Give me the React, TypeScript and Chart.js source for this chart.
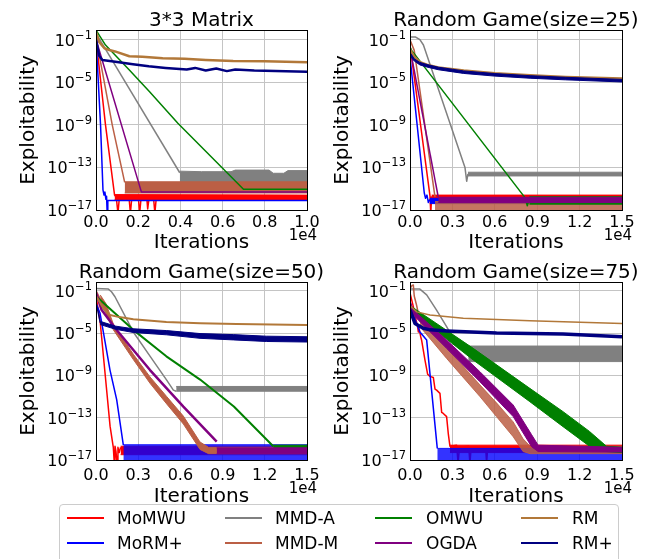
import React, { useEffect, useRef } from "react";
import { Chart, registerables } from "chart.js";

Chart.register(...registerables);

const W = 667;
const H = 559;
const FONT = '"DejaVu Sans", "Liberation Sans", sans-serif';
const GRID = "#c4c4c4";

const SERIES_NAMES = ["MoMWU", "MoRM+", "MMD-A", "MMD-M", "OMWU", "OGDA", "RM", "RM+"];
const SERIES_COLORS = ["#ff0000", "#0000ff", "#808080", "#bb5f45", "#008000", "#800080", "#b27839", "#000080"];

const Y_TICK_EXPONENTS = [-1, -5, -9, -13, -17];
const X_TICKS_10K = [0, 2000, 4000, 6000, 8000, 10000];
const X_TICKS_15K = [0, 3000, 6000, 9000, 12000, 15000];

type Pt = [number, number]; // [iteration, log10(exploitability)]
type Bd = [number, number, number]; // [iteration, upper log10, lower log10]

// ---------- 3*3 Matrix ----------
const M3_MoMWU: Pt[] = [[0, -0.9], [450, -9.0], [880, -15.6], [960, -15.8], [1040, -17.3], [1110, -15.8], [1560, -15.7], [1630, -17.3], [1700, -15.8], [2000, -15.7], [2070, -17.3], [2140, -15.8], [2400, -15.7], [2450, -16.9], [2520, -15.8], [2720, -15.7], [2790, -17.3], [2860, -15.8], [10000, -15.8]];
const M3_MoMWU_band: Bd[] = [[880, -15.55, -16.05], [10000, -15.6, -16.05]];
const M3_MoRMp: Pt[] = [[0, -0.8], [215, -9.0], [330, -15.1], [380, -15.6], [420, -15.3], [470, -16.0], [500, -15.7], [530, -17.3], [560, -16.1], [10000, -16.1]];
const M3_MMDA: Pt[] = [[0, -0.4], [3970, -13.5]];
const M3_MMDA_band: Bd[] = [[3970, -13.35, -14.7], [5000, -13.4, -14.7], [6400, -13.4, -14.7], [6600, -13.25, -14.7], [8200, -13.25, -14.7], [8400, -13.55, -14.7], [8900, -13.55, -14.7], [9100, -13.3, -14.7], [10000, -13.3, -14.7]];
const M3_MMDM: Pt[] = [[0, -0.8], [770, -9.0], [1360, -14.4]];
const M3_MMDM_band: Bd[] = [[1360, -14.35, -15.4], [10000, -14.35, -15.4]];
const M3_OMWU: Pt[] = [[0, -0.1], [450, -1.5], [1580, -3.85], [2540, -5.9], [3880, -8.85], [6990, -15.05], [10000, -15.05]];
const M3_OGDA: Pt[] = [[0, -0.8], [80, -1.5], [2150, -15.3], [10000, -15.3]];
const M3_RM: Pt[] = [[0, -0.3], [150, -1.2], [400, -1.8], [630, -1.97], [900, -2.1], [1580, -2.55], [2200, -2.6], [3160, -2.75], [4200, -2.8], [5210, -2.9], [6500, -3.0], [8000, -3.02], [10000, -3.12]];
const M3_RMp: Pt[] = [[0, -1.0], [150, -2.5], [300, -2.9], [1000, -3.1], [1750, -3.3], [2500, -3.5], [3300, -3.65], [4300, -3.8], [4700, -3.65], [5200, -3.9], [5700, -3.7], [6200, -3.95], [6600, -3.8], [7500, -3.9], [8500, -3.95], [10000, -4.0]];

// ---------- Random Game (size=25) ----------
const G25_MoMWU: Pt[] = [[0, -1.5], [1415, -15.7], [1470, -17.3], [1530, -15.7]];
const G25_MoMWU_band: Bd[] = [[1530, -15.6, -16.3], [15000, -15.6, -16.3]];
const G25_MoRMp: Pt[] = [[0, -2.6], [1010, -15.4], [1100, -15.9], [1200, -15.6], [1300, -16.3], [1400, -16.0]];
const G25_MoRMp_band: Bd[] = [[1400, -15.9, -16.4], [15000, -15.9, -16.4]];
const G25_MMDA: Pt[] = [[0, -0.75], [400, -0.75], [700, -1.0], [950, -1.5], [3890, -13.0], [4010, -14.3], [4100, -13.6]];
const G25_MMDA_band: Bd[] = [[4100, -13.45, -13.8], [15000, -13.45, -13.8]];
const G25_MMDM: Pt[] = [[0, -1.0], [300, -2.0], [1770, -15.8]];
const G25_MMDM_band: Bd[] = [[1770, -16.2, -17.3], [15000, -16.2, -17.3]];
const G25_OMWU: Pt[] = [[0, -1.7], [118, -2.0], [8135, -15.84], [8300, -16.6], [8450, -15.9]];
const G25_OMWU_band: Bd[] = [[8450, -15.75, -16.45], [15000, -15.75, -16.45]];
const G25_OGDA: Pt[] = [[0, -1.8], [2000, -15.8]];
const G25_OGDA_band: Bd[] = [[2000, -15.8, -16.3], [15000, -15.8, -16.3]];
const G25_RM: Pt[] = [[0, -1.9], [300, -2.6], [700, -3.1], [1200, -3.35], [2000, -3.6], [3800, -3.9], [6000, -4.15], [8500, -4.35], [11000, -4.5], [15000, -4.65]];
const G25_RMp: Pt[] = [[0, -2.3], [300, -2.9], [700, -3.25], [1200, -3.45], [2000, -3.7], [3800, -4.05], [6000, -4.3], [8500, -4.5], [11000, -4.65], [15000, -4.85]];
const G25_RMp_band: Bd[] = [[0, -2.2, -2.5], [300, -2.8, -3.0], [700, -3.13, -3.37], [1200, -3.33, -3.57], [2000, -3.58, -3.82], [3800, -3.93, -4.17], [6000, -4.18, -4.42], [8500, -4.38, -4.62], [11000, -4.53, -4.77], [15000, -4.73, -4.97]];

// ---------- Random Game (size=50) ----------
const G50_MoMWU: Pt[] = [[0, -1.5], [300, -4.0], [550, -7.5], [800, -11.0], [1000, -13.8], [1230, -15.8], [1300, -17.3], [1350, -15.7], [1420, -16.2], [1500, -17.3], [1560, -15.8], [1650, -16.3], [1750, -15.8]];
const G50_MoMWU_band: Bd[] = [[1750, -15.7, -16.5], [15000, -15.7, -16.5]];
const G50_MoRMp: Pt[] = [[0, -2.2], [284, -3.1], [995, -8.5], [1470, -11.3], [1944, -15.6]];
const G50_MoRMp_band: Bd[] = [[1944, -15.55, -17.3], [15000, -15.55, -17.3]];
const G50_MMDA: Pt[] = [[0, -0.8], [880, -0.85], [1100, -1.1], [1350, -1.57], [2650, -4.9], [3850, -7.2], [5000, -9.4], [5500, -10.4], [5700, -10.5]];
const G50_MMDA_band: Bd[] = [[5700, -10.05, -10.5], [15000, -10.05, -10.5]];
const G50_MMDM: Pt[] = [[0, -1.0], [300, -1.8], [700, -2.6], [1232, -4.4], [2650, -7.24], [3840, -9.44], [5024, -11.33], [6210, -13.2], [7394, -15.6]];
const G50_MMDM_band: Bd[] = [[300, -1.4, -2.3], [700, -2.2, -3.1], [1232, -4.15, -4.7], [2650, -7.0, -7.5], [3840, -9.15, -9.75], [5024, -11.0, -11.7], [6210, -12.85, -13.6], [7394, -15.3, -16.0], [8000, -15.8, -16.4], [15000, -15.8, -16.4]];
const G50_OMWU: Pt[] = [[0, -1.5], [240, -1.8], [2650, -4.7], [5000, -7.2], [7400, -9.4], [9800, -11.95], [12600, -15.7]];
const G50_OMWU_band: Bd[] = [[12600, -15.6, -16.0], [15000, -15.6, -16.0]];
const G50_OGDA: Pt[] = [[0, -1.2], [403, -2.83], [1470, -4.72], [3840, -8.5], [6210, -11.96], [8580, -15.27]];
const G50_OGDA_band: Bd[] = [[8580, -15.85, -16.4], [15000, -15.85, -16.4]];
const G50_RM: Pt[] = [[0, -1.5], [500, -2.6], [1000, -3.3], [1500, -3.45], [2000, -3.55], [2650, -3.7], [3500, -3.8], [5000, -3.95], [7400, -4.07], [10000, -4.15], [15000, -4.25]];
const G50_RMp: Pt[] = [[0, -2.2], [150, -3.0], [300, -4.0], [1400, -4.5], [2650, -4.78], [5024, -4.97], [7394, -5.28], [9760, -5.4], [12130, -5.55], [15000, -5.6]];
const G50_RMp_band: Bd[] = [[300, -3.9, -4.2], [1400, -4.35, -4.65], [2650, -4.6, -4.95], [5024, -4.77, -5.17], [7394, -5.05, -5.5], [9760, -5.15, -5.65], [12130, -5.3, -5.8], [15000, -5.35, -5.85]];

// ---------- Random Game (size=75) ----------
const G75_MoMWU: Pt[] = [[0, -1.2], [236, -2.5], [400, -3.6], [518, -4.25], [590, -4.9], [650, -4.6], [750, -5.3], [824, -5.7], [1060, -7.55], [1250, -8.9], [1413, -9.1], [1650, -9.2], [1770, -10.3], [1884, -10.4], [2120, -10.7], [2240, -12.5], [2355, -12.6], [2590, -12.9], [2708, -14.5], [2826, -15.7], [3300, -15.6], [3400, -17.3], [3500, -15.8], [4150, -15.7], [4240, -17.3], [4330, -15.8], [5350, -15.8], [5420, -17.3], [5500, -15.8]];
const G75_MoMWU_band: Bd[] = [[2826, -15.6, -16.3], [15000, -15.6, -16.3]];
const G75_MoRMp: Pt[] = [[0, -2.5], [700, -4.9], [1178, -5.65], [1930, -15.9]];
const G75_MoRMp_band: Bd[] = [[1930, -15.9, -17.3], [15000, -15.9, -17.3]];
const G75_MMDA: Pt[] = [[0, -0.83], [700, -0.85], [1180, -1.4], [1880, -2.83], [2590, -4.4], [3060, -5.5], [3530, -6.45], [4120, -7.0]];
const G75_MMDA_band: Bd[] = [[4120, -6.23, -7.7], [15000, -6.23, -7.7]];
const G75_MMDM: Pt[] = [[0, -0.8], [150, -0.5], [236, -0.46], [300, -1.5], [470, -2.4], [706, -3.9]];
const G75_MMDM_band: Bd[] = [[706, -3.5, -4.4], [2590, -6.4, -7.4], [4945, -9.9, -11.0], [6120, -11.6, -12.9], [7300, -13.4, -14.8], [8000, -15.0, -16.2], [8500, -15.7, -16.4], [15000, -15.7, -16.4]];
const G75_OMWU: Pt[] = [[0, -2.3], [118, -2.7]];
const G75_OMWU_band: Bd[] = [[0, -2.3, -2.6], [118, -2.51, -2.98], [4475, -6.45, -7.55], [8480, -10.23, -11.49], [10830, -12.43, -13.85], [12700, -14.3, -15.7], [13300, -15.0, -16.1], [13900, -15.7, -16.2], [15000, -15.8, -16.3]];
const G75_OGDA: Pt[] = [[0, -2.0], [236, -3.0]];
const G75_OGDA_band: Bd[] = [[0, -2.0, -2.6], [236, -2.83, -3.3], [2590, -5.66, -6.45], [4945, -8.65, -9.6], [7300, -11.8, -12.9], [8600, -14.6, -15.74], [9067, -15.6, -16.2], [15000, -15.8, -16.25]];
const G75_RM: Pt[] = [[0, -2.4], [470, -3.0], [1413, -3.3], [3770, -3.6], [8480, -3.85], [15000, -4.1]];
const G75_RMp: Pt[] = [[0, -2.8], [350, -4.1], [940, -4.55], [1413, -4.7], [2590, -4.8], [6120, -5.0], [10830, -5.1], [15000, -5.35]];

type Series = { line: Pt[]; band?: Bd[]; lw?: number; bandAlpha?: number };
type PanelDef = {
  title: string;
  L: number; R: number; T: number; B: number;
  yTopExp: number;
  xMax: number;
  xTicks: number[];
  xTickDy: number;
  xTitleDy: number;
  offDy: number;
  series: Series[];
};

const PANELS: PanelDef[] = [
  {
    title: "3*3 Matrix", L: 96, R: 307, T: 30, B: 210, yTopExp: -0.088, xMax: 10000, xTicks: X_TICKS_10K,
    xTickDy: 17, xTitleDy: 38, offDy: 30,
    series: [
      { line: M3_MoMWU, band: M3_MoMWU_band },
      { line: M3_MoRMp },
      { line: M3_MMDA, band: M3_MMDA_band },
      { line: M3_MMDM, band: M3_MMDM_band },
      { line: M3_OMWU },
      { line: M3_OGDA },
      { line: M3_RM, lw: 2.5 },
      { line: M3_RMp, lw: 2.5 },
    ],
  },
  {
    title: "Random Game(size=25)", L: 410, R: 622, T: 30, B: 210, yTopExp: -0.088, xMax: 15000, xTicks: X_TICKS_15K,
    xTickDy: 17, xTitleDy: 38, offDy: 30,
    series: [
      { line: G25_MoMWU, band: G25_MoMWU_band },
      { line: G25_MoRMp, band: G25_MoRMp_band },
      { line: G25_MMDA, band: G25_MMDA_band },
      { line: G25_MMDM, band: G25_MMDM_band, bandAlpha: 0.85 },
      { line: G25_OMWU, band: G25_OMWU_band },
      { line: G25_OGDA, band: G25_OGDA_band },
      { line: G25_RM, lw: 2.5 },
      { line: G25_RMp, band: G25_RMp_band },
    ],
  },
  {
    title: "Random Game(size=50)", L: 96, R: 307, T: 282, B: 460, yTopExp: -0.178, xMax: 15000, xTicks: X_TICKS_15K,
    xTickDy: 20, xTitleDy: 42, offDy: 33,
    series: [
      { line: G50_MoMWU, band: G50_MoMWU_band },
      { line: G50_MoRMp, band: G50_MoRMp_band, bandAlpha: 0.8 },
      { line: G50_MMDA, band: G50_MMDA_band },
      { line: G50_MMDM, band: G50_MMDM_band },
      { line: G50_OMWU, band: G50_OMWU_band, lw: 2 },
      { line: G50_OGDA, band: G50_OGDA_band, lw: 2.5 },
      { line: G50_RM, lw: 2 },
      { line: G50_RMp, band: G50_RMp_band },
    ],
  },
  {
    title: "Random Game(size=75)", L: 410, R: 622, T: 282, B: 460, yTopExp: -0.178, xMax: 15000, xTicks: X_TICKS_15K,
    xTickDy: 20, xTitleDy: 42, offDy: 33,
    series: [
      { line: G75_MoMWU, band: G75_MoMWU_band },
      { line: G75_MoRMp, band: G75_MoRMp_band, bandAlpha: 0.8 },
      { line: G75_MMDA, band: G75_MMDA_band },
      { line: G75_MMDM, band: G75_MMDM_band, bandAlpha: 0.85 },
      { line: G75_OMWU, band: G75_OMWU_band },
      { line: G75_OGDA, band: G75_OGDA_band },
      { line: G75_RM, lw: 1.5 },
      { line: G75_RMp, lw: 3.5 },
    ],
  },
];

function withAlpha(hex: string, a: number) {
  const r = parseInt(hex.slice(1, 3), 16);
  const g = parseInt(hex.slice(3, 5), 16);
  const b = parseInt(hex.slice(5, 7), 16);
  return `rgba(${r},${g},${b},${a})`;
}

function textPlugin(p: PanelDef) {
  return {
    id: "panelText",
    afterDraw(chart: any) {
      const ctx: CanvasRenderingContext2D = chart.ctx;
      const { left: L, right: R, top: T, bottom: B } = chart.chartArea;
      ctx.save();
      ctx.strokeStyle = "#000";
      ctx.lineWidth = 1;
      ctx.strokeRect(L + 0.5, T + 0.5, R - L, B - T);
      ctx.fillStyle = "#000";
      ctx.textBaseline = "alphabetic";
      ctx.textAlign = "center";
      ctx.font = `20px ${FONT}`;
      ctx.fillText(p.title, (L + R) / 2, T - 4);
      ctx.fillText("Iterations", (L + R) / 2, B + p.xTitleDy);
      ctx.save();
      ctx.translate(L - 62, (T + B) / 2);
      ctx.rotate(-Math.PI / 2);
      ctx.fillText("Exploitability", 0, 0);
      ctx.restore();
      const xs = chart.scales.x;
      ctx.font = `16px ${FONT}`;
      p.xTicks.forEach((v) => {
        ctx.fillText((v / 10000).toFixed(1), xs.getPixelForValue(v), B + p.xTickDy);
      });
      ctx.textAlign = "right";
      ctx.font = `15px ${FONT}`;
      ctx.fillText("1e4", R + 10, B + p.offDy);
      const ys = chart.scales.y;
      ctx.textAlign = "left";
      Y_TICK_EXPONENTS.forEach((e) => {
        const y = ys.getPixelForValue(Math.pow(10, e));
        const right = L - 4;
        const sup = "\u2212" + Math.abs(e);
        ctx.font = `11.5px ${FONT}`;
        const sw = ctx.measureText(sup).width;
        ctx.fillText(sup, right - sw, y - 1);
        ctx.font = `16px ${FONT}`;
        const bw = ctx.measureText("10").width;
        ctx.fillText("10", right - sw - bw, y + 6);
      });
      ctx.restore();
    },
  };
}

function Panel({ p }: { p: PanelDef }) {
  const ref = useRef<HTMLCanvasElement>(null);
  useEffect(() => {
    const datasets: any[] = [];
    p.series.forEach((s, i) => {
      const color = SERIES_COLORS[i];
      const order = SERIES_NAMES.length - 1 - i;
      if (s.band) {
        const bandColor = s.bandAlpha ? withAlpha(color, s.bandAlpha) : color;
        const lo = datasets.length;
        datasets.push({
          label: SERIES_NAMES[i] + " lo",
          data: s.band.map((b) => ({ x: b[0], y: Math.pow(10, b[2]) })),
          borderColor: bandColor, backgroundColor: bandColor, borderWidth: 1, pointRadius: 0, fill: false, order,
        });
        datasets.push({
          label: SERIES_NAMES[i] + " hi",
          data: s.band.map((b) => ({ x: b[0], y: Math.pow(10, b[1]) })),
          borderColor: bandColor, backgroundColor: bandColor, borderWidth: 1, pointRadius: 0, fill: lo, order,
        });
      }
      datasets.push({
        label: SERIES_NAMES[i],
        data: s.line.map((q) => ({ x: q[0], y: Math.pow(10, q[1]) })),
        borderColor: color, backgroundColor: color, borderWidth: s.lw ?? 1.5, pointRadius: 0, fill: false, order,
        borderJoinStyle: "round",
      });
    });
    const chart = new Chart(ref.current as HTMLCanvasElement, {
      type: "line",
      data: { datasets },
      options: {
        animation: false,
        responsive: false,
        events: [],
        layout: { padding: { left: p.L, top: p.T, right: W - p.R, bottom: H - p.B } },
        plugins: { legend: { display: false }, tooltip: { enabled: false }, title: { display: false } },
        scales: {
          x: {
            type: "linear", min: 0, max: p.xMax,
            afterBuildTicks: (s: any) => { s.ticks = p.xTicks.map((v) => ({ value: v })); },
            afterFit: (s: any) => { s.height = 0; },
            ticks: { display: false },
            grid: { color: GRID, lineWidth: 1, drawTicks: false },
            border: { display: false },
          },
          y: {
            type: "logarithmic", min: 1e-17, max: Math.pow(10, p.yTopExp),
            afterBuildTicks: (s: any) => { s.ticks = Y_TICK_EXPONENTS.map((e) => ({ value: Math.pow(10, e) })); },
            afterFit: (s: any) => { s.width = 0; },
            ticks: { display: false },
            grid: { color: GRID, lineWidth: 1, drawTicks: false },
            border: { display: false },
          },
        },
      } as any,
      plugins: [textPlugin(p)],
    });
    return () => chart.destroy();
  }, [p]);
  return <canvas ref={ref} width={W} height={H} style={{ position: "absolute", left: 0, top: 0 }} />;
}

const LEGEND_HANDLE_X = [67, 225, 375, 521];
const LEGEND_TEXT_X = [117, 275, 426, 572];
const LEGEND_ROW_Y = [518, 543];

function Legend() {
  const items = SERIES_NAMES.map((name, i) => {
    const col = Math.floor(i / 2);
    const row = i % 2;
    const y = LEGEND_ROW_Y[row];
    return (
      <React.Fragment key={name}>
        <div style={{ position: "absolute", left: LEGEND_HANDLE_X[col], top: y - 0.75, width: 37, height: 1.5, background: SERIES_COLORS[i] }} />
        <div style={{ position: "absolute", left: LEGEND_TEXT_X[col], top: y - 10, height: 20, lineHeight: "20px", fontSize: 17, fontFamily: FONT, color: "#000", whiteSpace: "nowrap" }}>{name}</div>
      </React.Fragment>
    );
  });
  return (
    <>
      <div style={{ position: "absolute", left: 59, top: 504, width: 560, height: 80, border: "1px solid #cccccc", borderRadius: 4, boxSizing: "border-box", background: "rgba(255,255,255,0.8)" }} />
      {items}
    </>
  );
}

export default function App() {
  return (
    <div style={{ position: "fixed", left: 0, top: 0, width: W, height: H, overflow: "hidden", background: "#fff" }}>
      {PANELS.map((p, i) => (
        <Panel key={i} p={p} />
      ))}
      <Legend />
    </div>
  );
}
